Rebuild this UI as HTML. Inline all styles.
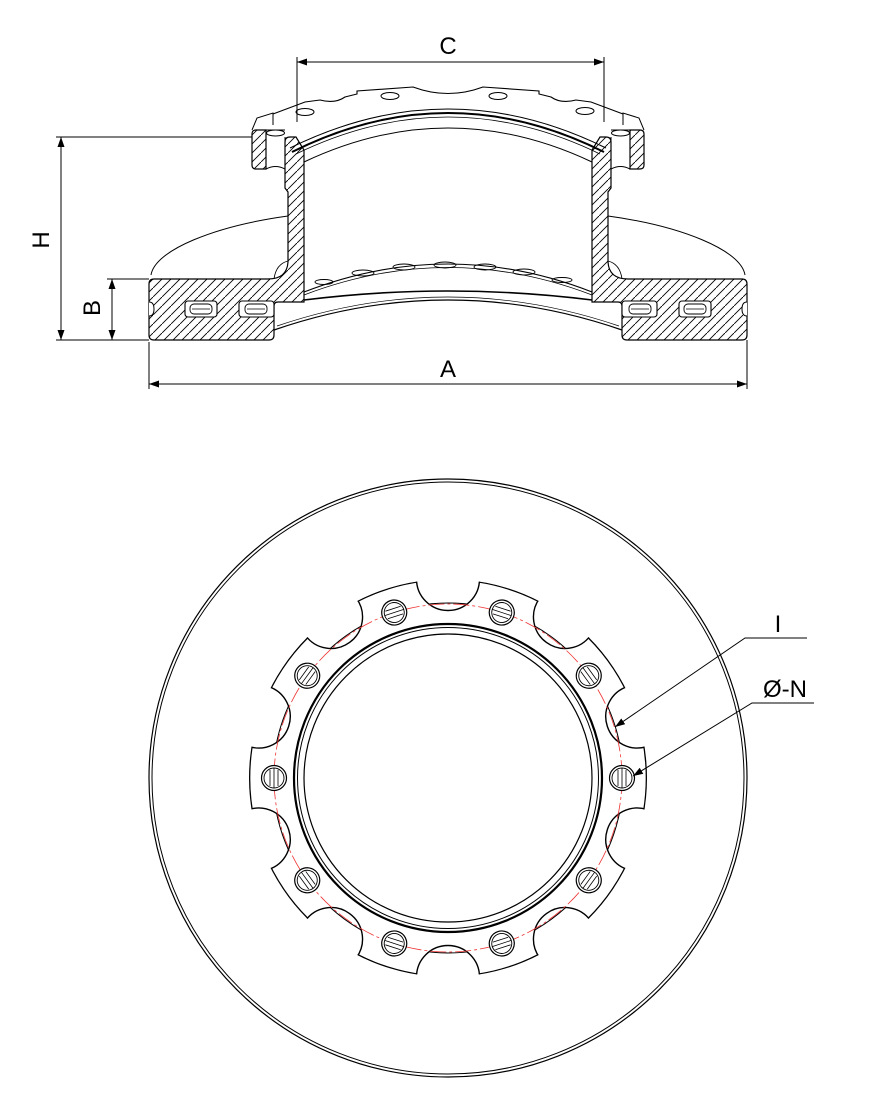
<!DOCTYPE html>
<html><head><meta charset="utf-8"><style>
html,body{margin:0;padding:0;background:#fff;}
svg{display:block;}
text{font-family:"Liberation Sans",Arial,sans-serif;fill:#000;}
</style></head><body>
<svg width="890" height="1114" viewBox="0 0 890 1114" xmlns="http://www.w3.org/2000/svg">
<defs>
 <pattern id="h" width="9" height="9" patternUnits="userSpaceOnUse"><path d="M-1,10 L10,-1" stroke="#000" stroke-width="0.9"/></pattern>
 <pattern id="h2" width="9" height="9" patternUnits="userSpaceOnUse" patternTransform="scale(-1,1)"><path d="M-1,10 L10,-1" stroke="#000" stroke-width="0.9"/></pattern>
 <marker id="ar" viewBox="0 0 10 7" refX="10" refY="3.5" markerWidth="10" markerHeight="7" markerUnits="userSpaceOnUse" orient="auto-start-reverse"><path d="M0,0 L10,3.5 L0,7 z" fill="#000"/></marker>
 <g id="half">
  <path d="M149,284 Q149,279 154,279 L268,279 Q287,279 288,262 L288,192 L285,188 L285,142 Q285,137 290,137 L296,137 L304,150 L304,302 L278,302 Q274,302 274,306 L274,335 Q274,340 269,340 L154,340 Q149,340 149,335 Z" stroke="#000" stroke-width="1.2"/>
  <path d="M252,134 Q252,130 256,130 L266,130 L266,169 L256,169 Q252,169 252,165 Z" stroke="#000" stroke-width="1.2"/>
  <ellipse cx="275.5" cy="133" rx="9" ry="3" fill="none" stroke="#000" stroke-width="1"/>
  <path d="M266,169 Q275.5,164 285,169" fill="none" stroke="#000" stroke-width="1"/>
  <path d="M266,130 L285,130 M285,137 L285,170" fill="none" stroke="#000" stroke-width="1"/>
  <rect x="185" y="301" width="32" height="16" rx="3" fill="#fff" stroke="#000" stroke-width="1.1"/>
  <rect x="190" y="304" width="22" height="10" rx="4" fill="none" stroke="#000" stroke-width="0.9"/>
  <path d="M192,309 L210,309" stroke="#000" stroke-width="0.8"/>
  <rect x="239" y="301" width="35" height="16" rx="3" fill="#fff" stroke="#000" stroke-width="1.1"/>
  <rect x="245" y="304" width="22" height="10" rx="4" fill="none" stroke="#000" stroke-width="0.9"/>
  <path d="M247,309 L265,309" stroke="#000" stroke-width="0.8"/>
  <path d="M149,302 Q154,302 154,309 Q154,316 149,316" fill="#fff" stroke="#000" stroke-width="1"/>
  <path d="M151,275 C155,250 215,226 288,216" fill="none" stroke="#000" stroke-width="1"/>
  <path d="M274,279 Q276,264 288,261" fill="none" stroke="#000" stroke-width="0.9"/>
  <path d="M252,130 L257,118 L273,113 L273,125" fill="none" stroke="#000" stroke-width="1"/>
 </g>
 <circle id="notch" cx="647" cy="778" r="31.5"/>
 <g id="hole">
  <circle cx="622" cy="778" r="12.5" fill="#fff" stroke="#000" stroke-width="1.2"/>
  <circle cx="622" cy="778" r="10" fill="none" stroke="#000" stroke-width="0.9"/>
  <path d="M618,770 L618,786 M622,768 L622,788 M626,770 L626,786" stroke="#000" stroke-width="0.8"/>
 </g>
 <mask id="flmask">
  <rect width="890" height="1114" fill="#000"/>
  <circle cx="448" cy="778" r="199" fill="#fff"/>
  <g fill="#000">
   <use href="#notch" transform="rotate(18 448 778)"/><use href="#notch" transform="rotate(54 448 778)"/>
   <use href="#notch" transform="rotate(90 448 778)"/><use href="#notch" transform="rotate(126 448 778)"/>
   <use href="#notch" transform="rotate(162 448 778)"/><use href="#notch" transform="rotate(198 448 778)"/>
   <use href="#notch" transform="rotate(234 448 778)"/><use href="#notch" transform="rotate(270 448 778)"/>
   <use href="#notch" transform="rotate(306 448 778)"/><use href="#notch" transform="rotate(342 448 778)"/>
  </g>
 </mask>
 <clipPath id="flclip"><circle cx="448" cy="778" r="199"/></clipPath>
</defs>

<!-- ===== SECTION VIEW ===== -->
<!-- top flange outline (3D) -->
<path d="M273,114 L305,102 L320,100 Q335,104 345,97 L357,94 L357,91 L413,87 Q448,100 483,87 L539,91 L539,94 L551,97 Q561,104 576,100 L591,102 L623,114" fill="none" stroke="#000" stroke-width="1.1"/>
<ellipse cx="305" cy="112" rx="9" ry="3.5" fill="none" stroke="#000" stroke-width="1"/>
<ellipse cx="390" cy="96" rx="9" ry="3.5" fill="none" stroke="#000" stroke-width="1"/>
<ellipse cx="498" cy="96" rx="9" ry="3.5" fill="none" stroke="#000" stroke-width="1"/>
<ellipse cx="585" cy="111" rx="9" ry="3.5" fill="none" stroke="#000" stroke-width="1"/>
<path d="M290,148 Q448,70 606,148" fill="none" stroke="#000" stroke-width="1"/>
<path d="M292,152 Q448,74 604,152" fill="none" stroke="#000" stroke-width="2"/>
<path d="M296,154 Q448,80 600,154" fill="none" stroke="#000" stroke-width="0.8"/>
<path d="M304,162 Q448,94 592,162" fill="none" stroke="#000" stroke-width="1"/>
<!-- bottom inner -->
<path d="M304,292 Q448,236 592,292" fill="none" stroke="#000" stroke-width="1.1"/>
<path d="M304,295 Q448,240 592,295" fill="none" stroke="#000" stroke-width="0.8"/>
<g fill="none" stroke="#000" stroke-width="0.9">
<ellipse cx="324" cy="282" rx="9" ry="2.5"/><ellipse cx="363" cy="273" rx="11" ry="3"/><ellipse cx="404" cy="267" rx="11" ry="3"/>
<ellipse cx="445" cy="265" rx="11" ry="3"/><ellipse cx="485" cy="267" rx="11" ry="3"/><ellipse cx="524" cy="272" rx="11" ry="3"/><ellipse cx="562" cy="280" rx="10" ry="2.5"/>
</g>
<path d="M304,300 Q448,282 592,300" fill="none" stroke="#000" stroke-width="1.6"/>
<path d="M274,330 Q448,270 622,330" fill="none" stroke="#000" stroke-width="1.2"/>
<path d="M277,326 Q448,268 619,326" fill="none" stroke="#000" stroke-width="0.7"/>

<use href="#half" fill="url(#h)"/>
<use href="#half" fill="url(#h2)" transform="translate(896,0) scale(-1,1)"/>

<!-- dimensions -->
<g stroke="#000" stroke-width="1" fill="none">
 <path d="M297,57 L297,122 M604,57 L604,122"/>
 <path d="M297,62 L604,62" marker-start="url(#ar)" marker-end="url(#ar)"/>
 <path d="M56,137 L252,137 M56,340 L149,340 M107,279 L149,279"/>
 <path d="M61,137 L61,340" marker-start="url(#ar)" marker-end="url(#ar)"/>
 <path d="M112,279 L112,340" marker-start="url(#ar)" marker-end="url(#ar)"/>
 <path d="M149,342 L149,389 M747,340 L747,389"/>
 <path d="M149,384 L747,384" marker-start="url(#ar)" marker-end="url(#ar)"/>
</g>
<text x="448" y="54" font-size="24" text-anchor="middle">C</text>
<text x="448" y="377" font-size="24" text-anchor="middle">A</text>
<text x="0" y="0" font-size="24" text-anchor="middle" transform="translate(49,240) rotate(-90)">H</text>
<text x="0" y="0" font-size="24" text-anchor="middle" transform="translate(100,308) rotate(-90)">B</text>

<!-- ===== PLAN VIEW ===== -->
<circle cx="448" cy="778" r="299" fill="none" stroke="#000" stroke-width="1.2"/>
<circle cx="448" cy="778" r="296" fill="none" stroke="#000" stroke-width="1"/>
<circle cx="448" cy="778" r="175" fill="none" stroke="#000" stroke-width="1"/>
<!-- flange -->
<rect width="890" height="1114" fill="#fff" mask="url(#flmask)"/>
<g clip-path="url(#flclip)" fill="none" stroke="#000" stroke-width="1.4">
   <use href="#notch" transform="rotate(18 448 778)"/><use href="#notch" transform="rotate(54 448 778)"/>
   <use href="#notch" transform="rotate(90 448 778)"/><use href="#notch" transform="rotate(126 448 778)"/>
   <use href="#notch" transform="rotate(162 448 778)"/><use href="#notch" transform="rotate(198 448 778)"/>
   <use href="#notch" transform="rotate(234 448 778)"/><use href="#notch" transform="rotate(270 448 778)"/>
   <use href="#notch" transform="rotate(306 448 778)"/><use href="#notch" transform="rotate(342 448 778)"/>
</g>
<circle cx="448" cy="778" r="198.5" fill="none" stroke="#000" stroke-width="1.6" mask="url(#flmask)"/>
<circle cx="448" cy="778" r="174" fill="none" stroke="#e33" stroke-width="0.8" stroke-dasharray="16 3 3 3"/>
<use href="#hole"/>
<use href="#hole" transform="rotate(36 448 778)"/><use href="#hole" transform="rotate(72 448 778)"/>
<use href="#hole" transform="rotate(108 448 778)"/><use href="#hole" transform="rotate(144 448 778)"/>
<use href="#hole" transform="rotate(180 448 778)"/><use href="#hole" transform="rotate(216 448 778)"/>
<use href="#hole" transform="rotate(252 448 778)"/><use href="#hole" transform="rotate(288 448 778)"/>
<use href="#hole" transform="rotate(324 448 778)"/>
<circle cx="448" cy="778" r="154" fill="none" stroke="#000" stroke-width="2.2"/>
<circle cx="448" cy="778" r="150.5" fill="none" stroke="#000" stroke-width="1"/>
<circle cx="448" cy="778" r="144" fill="none" stroke="#000" stroke-width="1.2"/>

<!-- leaders -->
<g stroke="#000" stroke-width="1" fill="none">
 <path d="M807,638 L745,638 L615,727" marker-end="url(#ar)"/>
 <path d="M814,703 L752,703 L633,776" marker-end="url(#ar)"/>
</g>
<text x="778" y="632" font-size="24" text-anchor="middle">I</text>
<text x="785" y="697" font-size="24" text-anchor="middle">Ø-N</text>
</svg>
</body></html>
